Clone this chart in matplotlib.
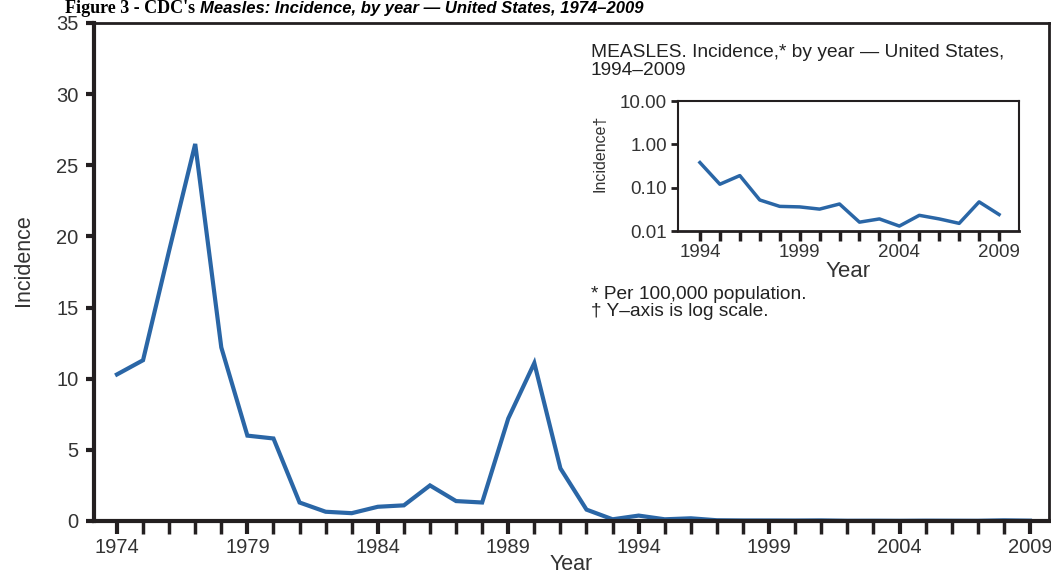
import matplotlib
matplotlib.use('Agg')
import matplotlib.pyplot as plt
import numpy as np

# Datos
anios = np.arange(1974, 2010)
incidencia = [10.3, 11.3, 19.0, 26.5, 12.2, 6.0, 5.8, 1.3, 0.65, 0.55,
              1.0, 1.1, 2.5, 1.4, 1.3, 7.2, 11.1, 3.7, 0.8, 0.12,
              0.38, 0.12, 0.19, 0.052, 0.037, 0.036, 0.032, 0.042, 0.016, 0.019,
              0.013, 0.023, 0.019, 0.015, 0.047, 0.024]

anios_inset = np.arange(1994, 2010)
incidencia_inset = incidencia[20:]

ticks_y = [0, 5, 10, 15, 20, 25, 30, 35]
ticks_x = [1974, 1979, 1984, 1989, 1994, 1999, 2004, 2009]
ticks_y_log = [0.01, 0.1, 1, 10]
etiquetas_y_log = ['0.01', '0.10', '1.00', '10.00']

azul = '#2a66a6'
negro = '#231f20'
gris = '#333333'

plt.rcParams['font.family'] = ['Liberation Sans', 'DejaVu Sans']

fig = plt.figure(figsize=(10.51, 5.76), dpi=100)

# Título (en el original sale cortado arriba)
fig.text(65 / 1051, 1 - 13 / 576, "Figure 3 - CDC's", fontsize=13, fontweight='bold',
         family='Liberation Serif', va='baseline', ha='left', color='black')
fig.text(200 / 1051, 1 - 13 / 576, "Measles: Incidence, by year \u2014 United States, 1974\u20132009",
         fontsize=12, fontweight='bold', style='italic', va='baseline', ha='left', color='black')

# Gráfico principal
ax = fig.add_axes([94 / 1051, 1 - 521 / 576, (1049 - 94) / 1051, (521 - 23) / 576])
ax.plot(anios, incidencia, color=azul, linewidth=3, solid_joinstyle='miter')
ax.set_xlim(1973.12, 2009.73)
ax.set_ylim(0, 35)
ax.set_yticks(ticks_y)
ax.set_xticks(ticks_x)
ax.set_xticks(anios, minor=True)
ax.tick_params(axis='y', direction='out', length=6, width=3, color=negro,
               labelsize=14.5, labelcolor=gris, pad=5)
ax.tick_params(axis='x', which='both', direction='out', length=9, width=3, color=negro,
               labelsize=14.5, labelcolor=gris, pad=3)
ax.tick_params(axis='x', which='minor', width=2.5)
for lado in ['left', 'bottom']:
    ax.spines[lado].set_linewidth(3)
    ax.spines[lado].set_color(negro)
for lado in ['top', 'right']:
    ax.spines[lado].set_linewidth(2)
    ax.spines[lado].set_color(negro)
ax.set_xlabel('Year', fontsize=15.5, color=gris, labelpad=-2)
ax.set_ylabel('Incidence', fontsize=15.5, color=gris)
ax.yaxis.set_label_coords(-0.063, 0.524)

# Texto del recuadro
fig.text(591 / 1051, 1 - 75 / 576, 'MEASLES. Incidence,* by year \u2014 United States,\n1994\u20132009',
         fontsize=13.8, color='#222222', va='baseline', ha='left', linespacing=1.1)
fig.text(591 / 1051, 1 - 316 / 576, '* Per 100,000 population.\n\u2020 Y\u2013axis is log scale.',
         fontsize=13.8, color='#222222', va='baseline', ha='left', linespacing=1.0)

# Gráfico insertado (escala log)
axi = fig.add_axes([678 / 1051, 1 - 231 / 576, (1019 - 678) / 1051, (231 - 101) / 576])
axi.plot(anios_inset, incidencia_inset, color=azul, linewidth=2.5)
axi.set_yscale('log')
axi.set_ylim(0.01, 10)
axi.set_xlim(1992.9, 2010.0)
axi.set_yticks(ticks_y_log)
axi.set_yticklabels(etiquetas_y_log)
axi.yaxis.set_minor_locator(matplotlib.ticker.NullLocator())
axi.set_xticks([1994, 1999, 2004, 2009])
axi.set_xticks(anios_inset, minor=True)
axi.tick_params(axis='y', direction='out', length=5, width=2, color=negro,
                labelsize=13.5, labelcolor=gris, pad=3)
axi.tick_params(axis='x', which='both', direction='out', length=7, width=2.5, color=negro,
                labelsize=13.5, labelcolor=gris, pad=2)
for lado in axi.spines:
    axi.spines[lado].set_color(negro)
    axi.spines[lado].set_linewidth(1.5)
axi.spines['bottom'].set_linewidth(2)
axi.set_xlabel('Year', fontsize=16, color=gris, labelpad=0)
axi.set_ylabel('Incidence\u2020', fontsize=11.5, color=gris)
axi.yaxis.set_label_coords(-0.207, 0.6)

fig.savefig('out.png', dpi=100)
